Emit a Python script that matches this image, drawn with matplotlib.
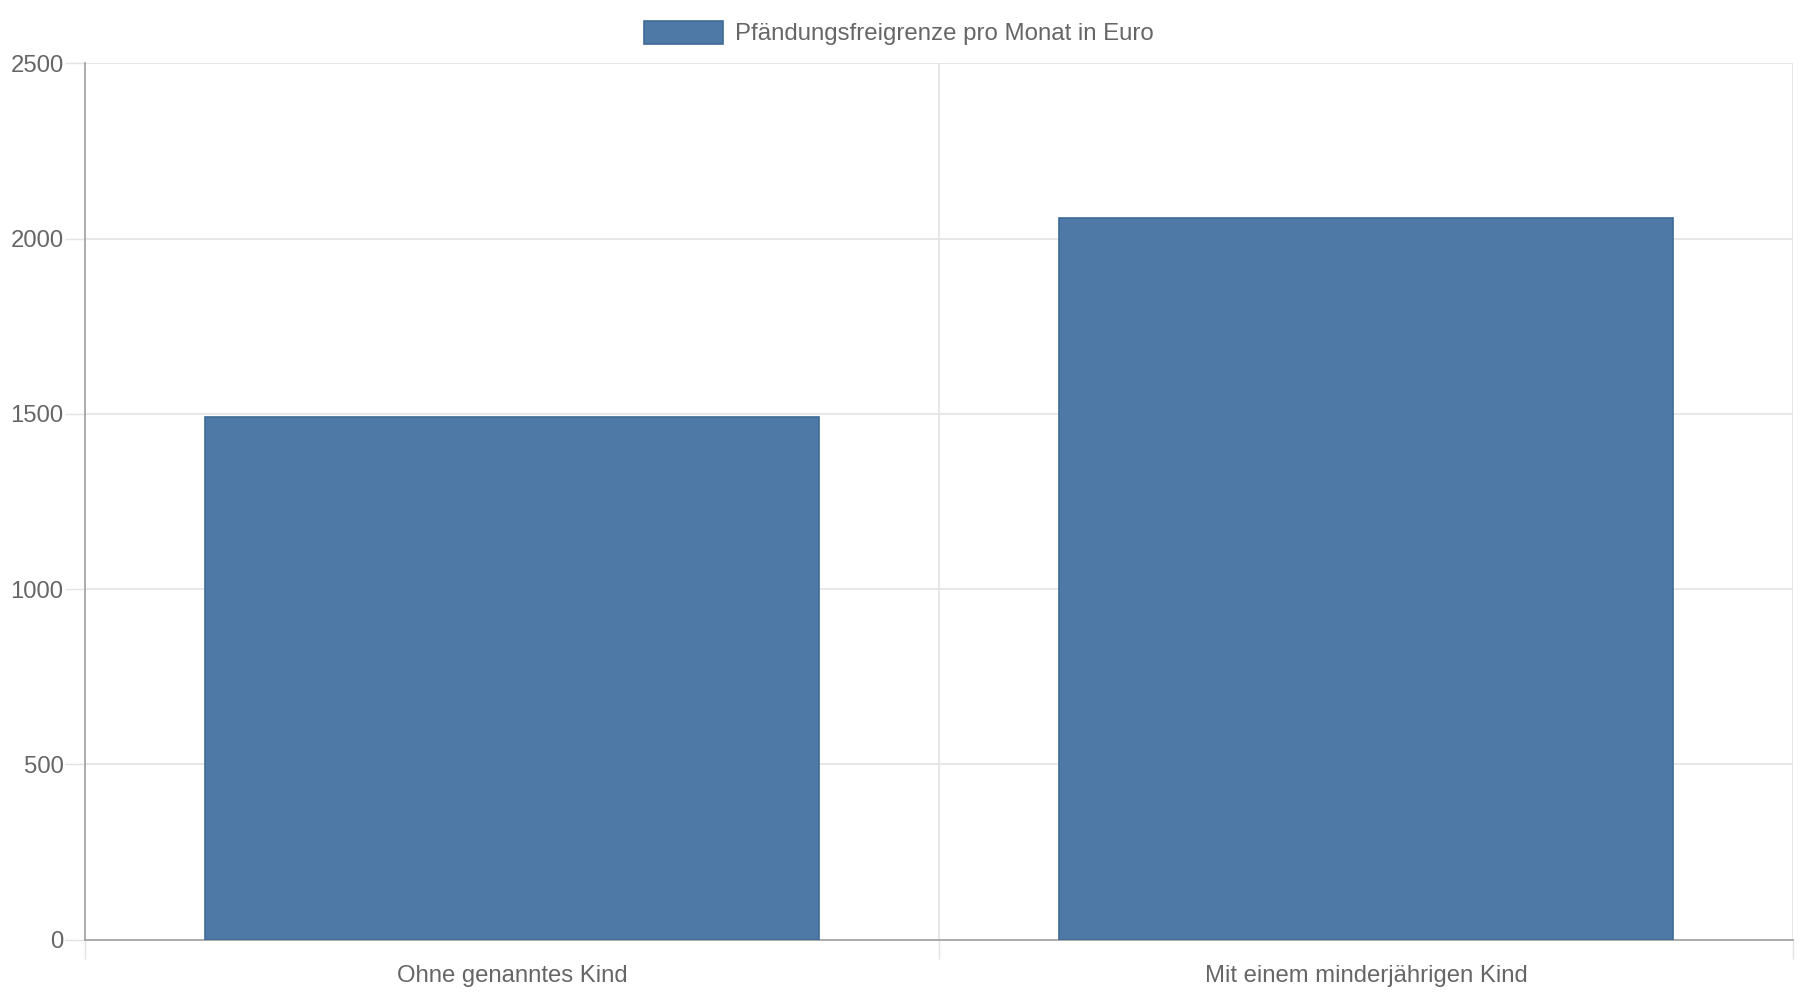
import matplotlib
matplotlib.use("Agg")
import matplotlib.pyplot as plt
from matplotlib.ticker import FixedLocator

plt.rcParams['font.family'] = ['Liberation Sans', 'DejaVu Sans']

# data
categories = ['Ohne genanntes Kind', 'Mit einem minderjährigen Kind']
values = [1491.75, 2058]
series_label = 'Pfändungsfreigrenze pro Monat in Euro'
y_ticks = [0, 500, 1000, 1500, 2000, 2500]

bar_color = '#4e79a7'
edge_color = '#3f6a98'
text_color = '#666666'
grid_color = '#e3e3e3'
axis_color = '#a6a6a6'

fig = plt.figure(figsize=(18, 10), dpi=100)
ax = fig.add_axes([85 / 1800, 1 - 939.7 / 1000, (1793 - 85) / 1800, (939.7 - 63.3) / 1000])

x = range(len(categories))
bars = ax.bar(x, values, width=0.72, color=bar_color, edgecolor=edge_color,
              linewidth=1.2, label=series_label, zorder=3)

ax.set_xlim(-0.5, len(categories) - 0.5)
ax.set_ylim(0, 2500)

# y axis
ax.set_yticks(y_ticks)
ax.tick_params(axis='y', length=14.4, width=1, color=grid_color, pad=1,
               labelsize=17.2, labelcolor=text_color)
ax.yaxis.grid(True, color=grid_color, linewidth=1.2, zorder=0)

# x axis: boundary ticks as major, labels on minor
ax.xaxis.set_major_locator(FixedLocator([i - 0.5 for i in range(len(categories) + 1)]))
ax.xaxis.set_major_formatter(plt.NullFormatter())
ax.xaxis.set_minor_locator(FixedLocator(list(x)))
ax.set_xticklabels(categories, minor=True)
ax.tick_params(axis='x', which='major', length=14, width=1, color=grid_color)
ax.tick_params(axis='x', which='minor', length=0, pad=18.5, labelsize=17.2, labelcolor=text_color)
ax.xaxis.grid(True, which='major', color=grid_color, linewidth=1.2, zorder=0)

for side in ['top', 'right']:
    ax.spines[side].set_visible(False)
ax.spines['left'].set_color(axis_color)
ax.spines['bottom'].set_color(axis_color)
ax.spines['left'].set_linewidth(1.3)
ax.spines['bottom'].set_linewidth(1.3)
ax.set_axisbelow(True)

fig.legend(handles=[bars], labels=[series_label], loc='center',
           bbox_to_anchor=(0.4995, 1 - 33 / 1000), frameon=False,
           fontsize=17.3, labelcolor=text_color,
           handlelength=3.3, handleheight=1.1, handletextpad=0.5)

fig.savefig('out.png', dpi=100, facecolor='white')
